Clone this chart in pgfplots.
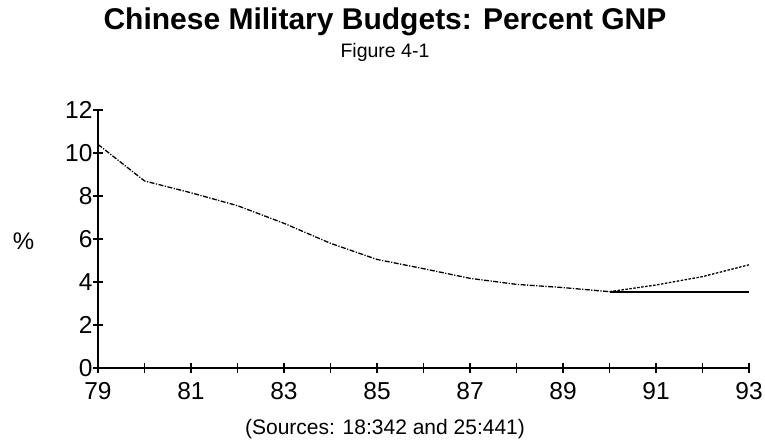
\documentclass[border=0pt]{standalone}
\usepackage{pgfplots}
\pgfplotsset{compat=1.18}
\usepackage{fontspec}
\setmainfont{Liberation Sans}
\begin{document}
\begin{tikzpicture}
\begin{axis}[
  scale only axis, width=651bp, height=258bp,
  at={(0,0)}, anchor=south west,
  xmin=79, xmax=93, ymin=0, ymax=12,
  axis x line=bottom, axis y line=left,
  axis line style={-, line width=1.6bp},
  xtick={79,...,93},
  xticklabels={79,,81,,83,,85,,87,,89,,91,,93},
  ytick={0,2,...,12},
  tick align=center, major tick length=10bp,
  tick style={line width=1.2bp, black},
  /pgf/number format/assume math mode=true,
  tick label style={font=\fontsize{24.5bp}{26bp}\selectfont},
  xticklabel style={yshift=-6bp},
  yticklabel style={xshift=3bp},
  clip=false,
]
\addplot[black, line width=1.3bp, dash pattern=on 5bp off 1.5bp on 1.2bp off 1.5bp] coordinates {
(79,10.4) (80,8.7) (81,8.15) (82,7.55) (83,6.73) (84,5.8) (85,5.05) (86,4.62) (87,4.17) (88,3.89) (89,3.74) (90,3.55)};
\addplot[black, line width=1.3bp, dash pattern=on 2.5bp off 1.5bp] coordinates {
(90,3.55) (91,3.86) (92,4.25) (93,4.8)};
\addplot[black, line width=1.8bp] coordinates {(90,3.55) (93,3.55)};
\end{axis}
\node[font=\bfseries\fontsize{30bp}{34bp}\selectfont] at (287bp,346bp) {Chinese Military Budgets: Percent GNP};
\node[font=\fontsize{19.5bp}{22bp}\selectfont] at (287bp,316bp) {Figure 4-1};
\node[font=\fontsize{24bp}{26bp}\selectfont] at (-74.5bp,127bp) {\%};
\node[font=\fontsize{21bp}{24bp}\selectfont] at (287bp,-61bp) {(Sources: 18:342 and 25:441)};
\pgfresetboundingbox
\path[use as bounding box] (-98bp,-78bp) rectangle (667bp,368bp);
\end{tikzpicture}
\end{document}
